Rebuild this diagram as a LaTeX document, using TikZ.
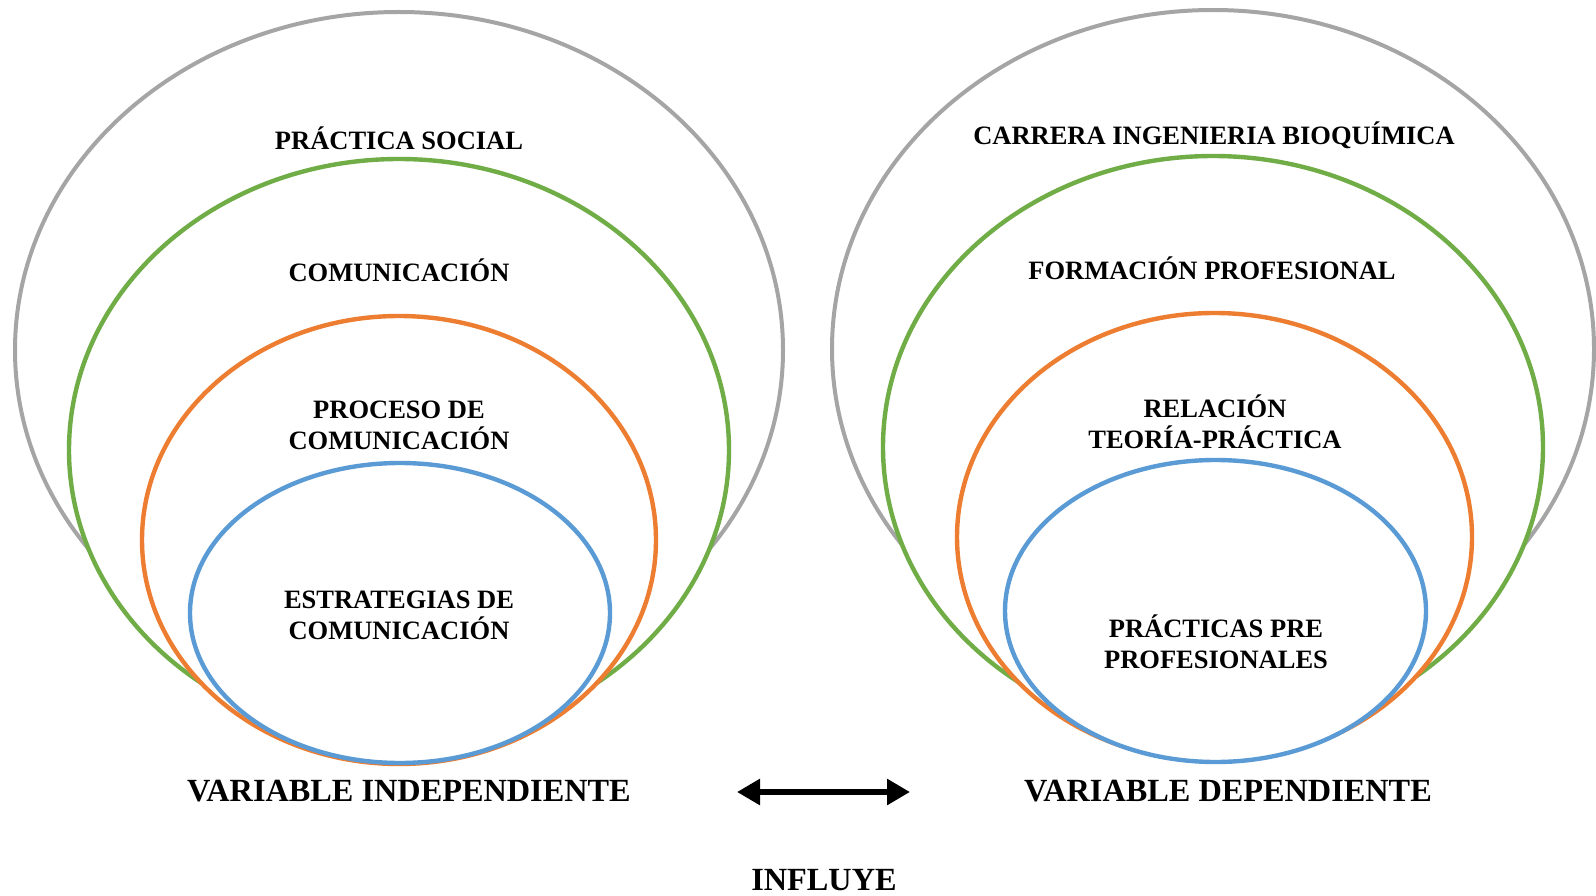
\documentclass[tikz,border=0pt]{standalone}
\usepackage{fontspec}
\setmainfont{Liberation Serif}
\usetikzlibrary{arrows.meta}
\definecolor{cgray}{HTML}{A5A5A5}
\definecolor{cgreen}{HTML}{70AD47}
\definecolor{corange}{HTML}{ED7D31}
\definecolor{cblue}{HTML}{5B9BD5}
\tikzset{
  ring/.style={line width=4.4pt, fill=white},
  lbl/.style={font=\bfseries\fontsize{26.5}{31}\selectfont, align=center, inner sep=0pt},
  biglbl/.style={font=\bfseries\fontsize{32.3}{36}\selectfont, inner sep=0pt},
}
\begin{document}
\begin{tikzpicture}[x=1pt,y=-1pt]
\useasboundingbox (0,0) rectangle (1596,896);
% left set
\draw[ring, draw=cgray, line width=4pt] (399,350) ellipse [x radius=384pt, y radius=338pt];
\draw[ring, draw=cgreen] (399,450) ellipse [x radius=330pt, y radius=291pt];
\draw[ring, draw=corange] (399,540) ellipse [x radius=257pt, y radius=224pt];
\draw[ring, draw=cblue] (400,613) ellipse [x radius=210pt, y radius=150pt];
% right set
\draw[ring, draw=cgray, line width=4pt] (1213,349) ellipse [x radius=381pt, y radius=339pt];
\draw[ring, draw=cgreen] (1213,447) ellipse [x radius=330pt, y radius=291pt];
\draw[ring, draw=corange] (1214.5,537) ellipse [x radius=257.5pt, y radius=224pt];
\draw[ring, draw=cblue] (1215.5,611) ellipse [x radius=210.5pt, y radius=151pt];
% left labels
\node[lbl] (ps) at (399,138) {PRÁCTICA SOCIAL};
\node[lbl] (com) at (399,270) {COMUNICACIÓN};
\node[lbl] (pc) at (399,425) {PROCESO DE\\COMUNICACIÓN};
\node[lbl] (ec) at (399,615) {ESTRATEGIAS DE\\COMUNICACIÓN};
% right labels
\node[lbl] (cib) at (1214,135) {CARRERA INGENIERIA BIOQUÍMICA};
\node[lbl] (fp) at (1212,268) {FORMACIÓN PROFESIONAL};
\node[lbl] (rtp) at (1215,422) {RELACIÓN\\TEORÍA-PRÁCTICA};
\node[lbl] (ppp) at (1216,642) {PRÁCTICAS PRE\\PROFESIONALES};
% bottom
\node[biglbl] (vi) at (409,791) {VARIABLE INDEPENDIENTE};
\node[biglbl] (vd) at (1228,791) {VARIABLE DEPENDIENTE};
\node[biglbl] (inf) at (824,880) {INFLUYE};
\coordinate (al) at (737,792);
\coordinate (ar) at (910,792);
\draw[line width=6.5pt, {Triangle[length=23pt,width=25pt]}-{Triangle[length=23pt,width=25pt]}] (al) -- (ar);
\end{tikzpicture}
\end{document}
